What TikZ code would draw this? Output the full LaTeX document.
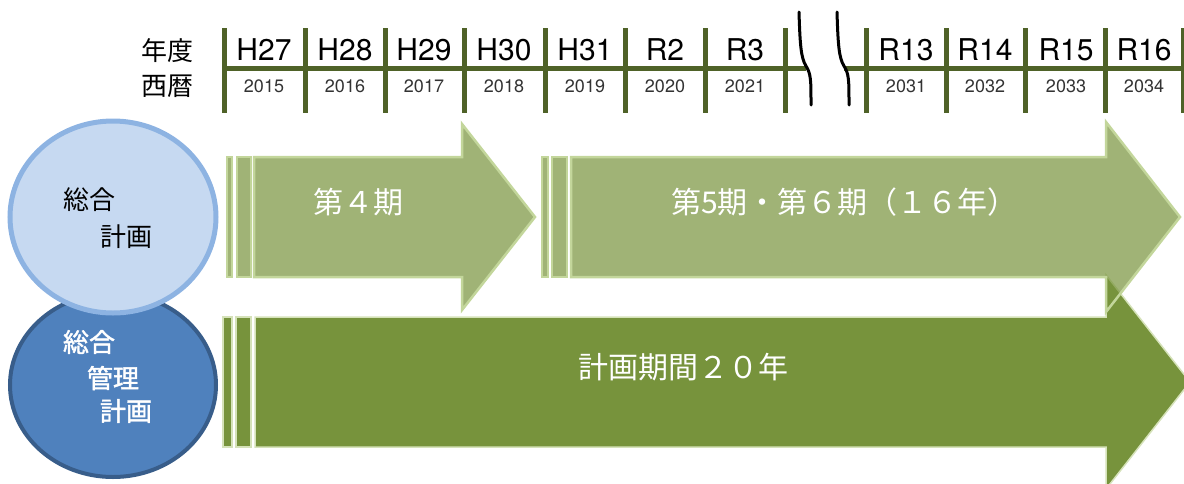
\documentclass[tikz,border=0pt]{standalone}
\usepackage{fontspec}
\setmainfont{TeX Gyre Heros}
\newfontfamily\jp{Noto Sans CJK JP}
\newfontfamily\jpbold{Noto Sans CJK JP}[FakeBold=1.6]
\definecolor{lineolive}{HTML}{4F6228}
\definecolor{arrowolive}{HTML}{77933C}
\definecolor{edgeolive}{HTML}{C3D69B}
\definecolor{planfill}{HTML}{C6D9F1}
\definecolor{planedge}{HTML}{8DB3E2}
\definecolor{mgmtfill}{HTML}{4F81BD}
\definecolor{mgmtedge}{HTML}{385D8A}
\tikzset{
  yearline/.style={lineolive,line width=5},
  breakline/.style={black,line width=3,line cap=round},
  eralabel/.style={font=\fontsize{30}{30}\selectfont,anchor=base,inner sep=0pt},
  yrlabel/.style={font=\fontsize{18}{18}\selectfont,text=black!80,anchor=base,inner sep=0pt},
  period/.style={fill=arrowolive,fill opacity=0.7,draw=edgeolive,line width=2.5},
  whole/.style={fill=arrowolive,draw=edgeolive!70!white,line width=1.5},
  jpblack/.style={font=\jp\fontsize{26}{26}\selectfont,inner sep=0pt},
  jpwhite/.style={font=\jpbold\fontsize{26}{26}\selectfont,text=white,inner sep=0pt},
  jpband/.style={font=\jp\fontsize{30}{30}\selectfont,text=white,inner sep=0pt}
}

\begin{document}
\begin{tikzpicture}[x=1pt,y=-1pt]
    \useasboundingbox (0,0) rectangle (1184,483);
    \clip (0,0) rectangle (1184,483);
    % time axis
    \node[jpblack] (nendo) at (167,51) {年度};
    \node[jpblack] (seireki) at (167,86) {西暦};
    \draw[yearline] (224,68) -- (806,68);
    \draw[yearline] (844,68) -- (1186,68);
    \foreach \x in {224,305,385,464,545,625,705,785,866,946,1025,1105,1183}
      \draw[yearline] (\x,28) -- (\x,113);
    \foreach \x/\era/\yr [count=\i] in {264/H27/2015,345/H28/2016,424/H29/2017,
        504/H30/2018,585/H31/2019,665/R2/2020,745/R3/2021,906/R13/2031,
        985/R14/2032,1066/R15/2033,1144/R16/2034}
    {
      \node[eralabel] (era\i) at (\x,60) {\era};
      \node[yrlabel] (yr\i) at (\x,92) {\yr};
    }
    \foreach \s in {0,38}
      \draw[breakline,xshift=\s pt] (799,12) .. controls (800,45) and (801,58) .. (806,66)
        .. controls (811,74) and (811,80) .. (811,105);
    % plan period, 20 years
    \draw[whole] (223,317) rectangle (232,447);
    \draw[whole] (236,317) rectangle (251,447);
    \draw[whole] (255,317) -- (1106,317) -- (1106,275) -- (1190,382) -- (1106,489)
      -- (1106,447) -- (255,447) -- cycle;
    % 4th term
    \draw[period] (227,157) rectangle (232,277);
    \draw[period] (237,157) rectangle (251,277);
    \draw[period] (254,157) -- (462,157) -- (462,124) -- (535,217) -- (462,310)
      -- (462,277) -- (254,277) -- cycle;
    % 5th and 6th term
    \draw[period] (542,157) rectangle (548,277);
    \draw[period] (552,157) rectangle (567,277);
    \draw[period] (571,157) -- (1106,157) -- (1106,122) -- (1180,217) -- (1106,312)
      -- (1106,277) -- (571,277) -- cycle;
    \node[jpband] (term4) at (358,202) {第４期};
    \node[jpband,anchor=west] (term56) at (671,202) {第5期・第６期（１６年）};
    \node[jpband] (term20) at (683,367) {計画期間２０年};
    % circles
    \draw[fill=mgmtfill,draw=mgmtedge,line width=4] (113,385) ellipse [x radius=103,y radius=92];
    \draw[fill=planfill,draw=planedge,line width=5] (113,217) ellipse [x radius=103,y radius=96];
    \node[jpblack] (sogo) at (89,200) {総合};
    \node[jpblack] (keikaku) at (126,237) {計画};
    \node[jpwhite] (sogo2) at (89,342) {総合};
    \node[jpwhite] (kanri) at (113,378) {管理};
    \node[jpwhite] (keikaku2) at (126,411) {計画};
\end{tikzpicture}
\end{document}
